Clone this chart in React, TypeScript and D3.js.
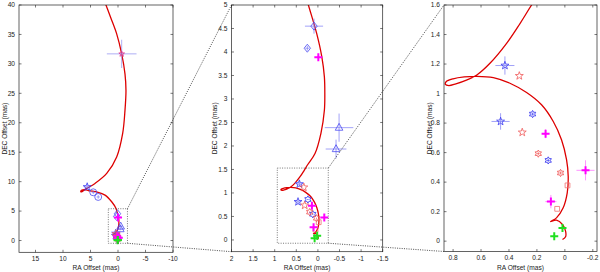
import { useMemo } from "react"
import * as d3 from "d3"

// model orbit (RA offset, DEC offset in mas), traced from the outer arc down to the innermost hook
const orbitRa = [
  2.6, 1.3, 0.24, -0.67, -1.27, -1.45, -1.27, -0.85, 0.24, 2.05, 4.18, 5.69, 6.3, 6.7, 6.75, 6.4, 5.8, 5.4, 4.6, 3.87,
  2.36, 1.15, 0.36, 0.22, 0.03, -0.09, -0.15, -0.16, -0.15, -0.07, 0.067, 0.238, 0.32, 0.417, 0.536, 0.63, 0.7, 0.78,
  0.83, 0.855, 0.85, 0.8, 0.72, 0.63, 0.512, 0.393, 0.274, 0.167, 0.083, 0.024, -0.012, -0.024, -0.017, 0.012, 0.06,
  0.102, 0.06, 0.017, -0.005, -0.005, 0.017,
]
const orbitDec = [
  41, 37.8, 35.1, 31.7, 28.3, 25.5, 22.1, 18.2, 14.2, 11.4, 9.7, 8.85, 8.45, 8.25, 8.42, 8.6, 8.6, 8.48, 8.38, 8.25,
  7.71, 6.58, 5.45, 5.0, 4.4, 3.9, 3.47, 3.12, 2.76, 2.27, 1.84, 1.6, 1.476, 1.34, 1.205, 1.126, 1.093, 1.066, 1.054,
  1.062, 1.08, 1.1, 1.113, 1.117, 1.108, 1.07, 1.007, 0.924, 0.811, 0.687, 0.552, 0.439, 0.327, 0.226, 0.158, 0.133,
  0.142, 0.113, 0.068, 0.03, 0.011,
]

// measured positions with errors (mas)
const crossObs = [{ ra: -0.67, dec: 31.7, eRa: 2.7, eDec: 2.4 }]
const blueStarObs = [
  { ra: 5.6, dec: 9.1, eRa: 0.6, eDec: 0.5 },
  { ra: 0.429, dec: 1.19, eRa: 0.068, eDec: 0.062 },
  { ra: 0.46, dec: 0.811, eRa: 0.065, eDec: 0.056 },
]
const blueCircleObs = [
  { ra: 4.5, dec: 8.19, eRa: 0.3, eDec: 0.3 },
  { ra: 3.6, dec: 7.4, eRa: 0.3, eDec: 0.3 },
]
const blueDiamondObs = [
  { ra: 0.09, dec: 4.55, eRa: 0.21, eDec: 0.16 },
  { ra: 0.245, dec: 4.08, eRa: 0.05, eDec: 0.05 },
]
const blueTriangleObs = [
  { ra: -0.49, dec: 2.39, eRa: 0.33, eDec: 0.3 },
  { ra: -0.42, dec: 1.935, eRa: 0.24, eDec: 0.2 },
]
const blueHexObs = [
  { ra: 0.231, dec: 0.861, eRa: 0.01, eDec: 0.01 },
  { ra: 0.119, dec: 0.547, eRa: 0.01, eDec: 0.01 },
]
const redStarObs = [
  { ra: 0.326, dec: 1.12, eRa: 0, eDec: 0 },
  { ra: 0.305, dec: 0.737, eRa: 0, eDec: 0 },
]
const redHexObs = [
  { ra: 0.19, dec: 0.593, eRa: 0.01, eDec: 0.01 },
  { ra: 0.031, dec: 0.462, eRa: 0.01, eDec: 0.01 },
]
const redSquareObs = [
  { ra: -0.019, dec: 0.378, eRa: 0, eDec: 0 },
  { ra: 0.055, dec: 0.219, eRa: 0, eDec: 0 },
]
const magentaObs = [
  { ra: -0.01, dec: 3.89, eRa: 0.03, eDec: 0.03 },
  { ra: 0.138, dec: 0.728, eRa: 0.02, eDec: 0.03 },
  { ra: -0.148, dec: 0.48, eRa: 0.065, eDec: 0.068 },
  { ra: 0.1, dec: 0.268, eRa: 0.04, eDec: 0.045 },
]
const greenObs = [
  { ra: 0.017, dec: 0.09, eRa: 0, eDec: 0 },
  { ra: 0.076, dec: 0.034, eRa: 0, eDec: 0 },
]

// axes
const p1RaTicks = [15, 10, 5, 0, -5, -10]
const p1DecTicks = [0, 5, 10, 15, 20, 25, 30, 35, 40]
const p2RaTicks = [2, 1.5, 1, 0.5, 0, -0.5, -1, -1.5]
const p2DecTicks = [0, 0.5, 1, 1.5, 2, 2.5, 3, 3.5, 4, 4.5, 5]
const p3RaTicks = [0.8, 0.6, 0.4, 0.2, 0, -0.2]
const p3DecTicks = [0, 0.2, 0.4, 0.6, 0.8, 1, 1.2, 1.4, 1.6]

// zoom rectangles drawn in panel 1 and 2
const zoomRa = [[1.76, -1.72], [0.94, -0.24]]
const zoomDec = [[-0.47, 5.4], [-0.07, 1.53]]

const panels = [
  { x0: 19, x1: 173, y0: 5, y1: 252.3, ra: [18, -10], dec: [-2, 40], raTicks: p1RaTicks, decTicks: p1DecTicks, titleX: 6.8 },
  { x0: 231.5, x1: 382.7, y0: 5, y1: 251.7, ra: [2, -1.5], dec: [-0.25, 5], raTicks: p2RaTicks, decTicks: p2DecTicks, titleX: 217.3 },
  { x0: 444, x1: 597, y0: 5, y1: 251.5, ra: [0.865, -0.23], dec: [-0.07, 1.6], raTicks: p3RaTicks, decTicks: p3DecTicks, titleX: 431.6 },
]

const FONT = "'Liberation Sans', Arial, Helvetica, sans-serif"

function starPath(r: number, n: number, inner: number) {
  const pts: string[] = []
  for (let k = 0; k < n * 2; k++) {
    const a = -Math.PI / 2 + (k * Math.PI) / n
    const rr = k % 2 === 0 ? r : r * inner
    pts.push(`${(rr * Math.cos(a)).toFixed(2)},${(rr * Math.sin(a)).toFixed(2)}`)
  }
  return "M" + pts.join("L") + "Z"
}

const shapes: Record<string, string> = {
  pentagram: starPath(4.2, 5, 0.4),
  hexagram: starPath(3.6, 6, 0.58),
  square: "M-2.4,-2.4L2.4,-2.4L2.4,2.4L-2.4,2.4Z",
  diamond: "M0,-4L3.2,0L0,4L-3.2,0Z",
  triangle: "M0,-4.3L3.8,2.6L-3.8,2.6Z",
  circle: d3.symbol().type(d3.symbolCircle).size(38)() || "",
  plus: "M-4,0L4,0M0,-4L0,4",
  smallstar: starPath(3, 5, 0.4),
}

const series = [
  { data: crossObs, shape: "smallstar", color: "#e0308a", err: "#8c8cf0", width: 0.8 },
  { data: blueStarObs, shape: "pentagram", color: "#3c3cf0", err: "#7a7af5", width: 0.8 },
  { data: blueCircleObs, shape: "circle", color: "#4a4af0", err: "#7a7af5", width: 0.8 },
  { data: blueDiamondObs, shape: "diamond", color: "#4a4af0", err: "#7a7af5", width: 0.8 },
  { data: blueTriangleObs, shape: "triangle", color: "#4a4af0", err: "#7a7af5", width: 0.8 },
  { data: blueHexObs, shape: "hexagram", color: "#3c3cf0", err: "#3c3cf0", width: 0.9 },
  { data: redStarObs, shape: "pentagram", color: "#f05a5a", err: "#f05a5a", width: 0.8 },
  { data: redHexObs, shape: "hexagram", color: "#f05a5a", err: "#f05a5a", width: 0.9 },
  { data: redSquareObs, shape: "square", color: "#f07070", err: "#f07070", width: 0.8 },
  { data: magentaObs, shape: "plus", color: "#ff00ff", err: "#ff66ff", width: 2 },
  { data: greenObs, shape: "plus", color: "#1fe01f", err: "#1fe01f", width: 2 },
]

type Panel = (typeof panels)[number]

function PanelView({ p, idx }: { p: Panel; idx: number }) {
  const x = d3.scaleLinear().domain(p.ra).range([p.x0, p.x1])
  const y = d3.scaleLinear().domain(p.dec).range([p.y1, p.y0])
  const pts = orbitRa.map((r, i) => [x(r), y(orbitDec[i])] as [number, number])
  const orbit = d3.line().curve(d3.curveCatmullRom.alpha(0.5))(pts) || ""
  const tl = 2.5
  const midY = (p.y0 + p.y1) / 2
  const box = idx < 2 ? { ra: zoomRa[idx], dec: zoomDec[idx] } : null

  return (
    <g>
      <defs>
        <clipPath id={`clip${idx}`}>
          <rect x={p.x0} y={p.y0} width={p.x1 - p.x0} height={p.y1 - p.y0} />
        </clipPath>
      </defs>
      <g clipPath={`url(#clip${idx})`}>
        <path d={orbit} fill="none" stroke="#dd0000" strokeWidth={1.3} />
        {series.map((s, si) =>
          s.data.map((d, di) => (
            <g key={`${si}-${di}`}>
              {d.eRa > 0 && (
                <g stroke={s.err} strokeWidth={0.7}>
                  <line x1={x(d.ra - d.eRa)} x2={x(d.ra + d.eRa)} y1={y(d.dec)} y2={y(d.dec)} />
                  <line x1={x(d.ra)} x2={x(d.ra)} y1={y(d.dec - d.eDec)} y2={y(d.dec + d.eDec)} />
                </g>
              )}
              <path
                d={shapes[s.shape]}
                transform={`translate(${x(d.ra)},${y(d.dec)})`}
                fill="none"
                stroke={s.color}
                strokeWidth={s.width}
              />
            </g>
          )),
        )}
        {box && (
          <rect
            x={x(box.ra[0])}
            y={y(box.dec[1])}
            width={x(box.ra[1]) - x(box.ra[0])}
            height={y(box.dec[0]) - y(box.dec[1])}
            fill="none"
            stroke="#555"
            strokeWidth={0.8}
            strokeDasharray="1,1.4"
          />
        )}
      </g>
      <rect x={p.x0} y={p.y0} width={p.x1 - p.x0} height={p.y1 - p.y0} fill="none" stroke="#222" strokeWidth={0.7} />
      <g stroke="#222" strokeWidth={0.6}>
        {p.raTicks.map((t) => (
          <g key={`xt${t}`}>
            <line x1={x(t)} x2={x(t)} y1={p.y1} y2={p.y1 - tl} />
            <line x1={x(t)} x2={x(t)} y1={p.y0} y2={p.y0 + tl} />
          </g>
        ))}
        {p.decTicks.map((t) => (
          <g key={`yt${t}`}>
            <line x1={p.x0} x2={p.x0 + tl} y1={y(t)} y2={y(t)} />
            <line x1={p.x1} x2={p.x1 - tl} y1={y(t)} y2={y(t)} />
          </g>
        ))}
      </g>
      <g fontFamily={FONT} fontSize={6.6} fill="#222">
        {p.raTicks.map((t) => (
          <text key={`xl${t}`} x={x(t)} y={p.y1 + 8.8} textAnchor="middle">
            {String(t)}
          </text>
        ))}
        {p.decTicks.map((t) => (
          <text key={`yl${t}`} x={p.x0 - 4} y={y(t) + 2.3} textAnchor="end">
            {String(t)}
          </text>
        ))}
        <text x={(p.x0 + p.x1) / 2} y={270} textAnchor="middle">
          RA Offset (mas)
        </text>
        <text transform={`translate(${p.titleX},${midY}) rotate(-90)`} textAnchor="middle">
          DEC Offset (mas)
        </text>
      </g>
    </g>
  )
}

export default function App() {
  // dotted connectors from each zoom rectangle to the next panel's corners
  const connectors = useMemo(() => {
    const segs: { x1: number; y1: number; x2: number; y2: number }[] = []
    for (let i = 0; i < 2; i++) {
      const p = panels[i]
      const q = panels[i + 1]
      const x = d3.scaleLinear().domain(p.ra).range([p.x0, p.x1])
      const y = d3.scaleLinear().domain(p.dec).range([p.y1, p.y0])
      segs.push({ x1: x(zoomRa[i][1]), y1: y(zoomDec[i][1]), x2: q.x0, y2: q.y0 })
      segs.push({ x1: x(zoomRa[i][1]), y1: y(zoomDec[i][0]), x2: q.x0, y2: q.y1 })
    }
    return segs
  }, [])

  return (
    <svg width={600} height={272} style={{ position: "absolute", left: 0, top: 0 }}>
      <rect width={600} height={272} fill="#fff" />
      {panels.map((p, i) => (
        <PanelView key={i} p={p} idx={i} />
      ))}
      {connectors.map((s, i) => (
        <line key={i} {...s} stroke="#222" strokeWidth={0.8} strokeDasharray="1,1.3" />
      ))}
    </svg>
  )
}
